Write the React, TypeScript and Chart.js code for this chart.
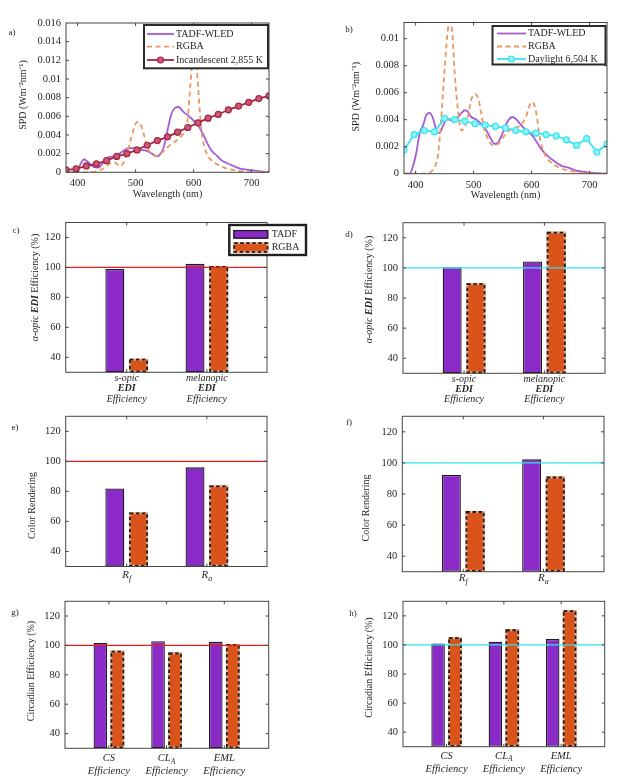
import React, { useEffect, useRef } from "react";
import { Chart, registerables } from "chart.js";

Chart.register(...registerables);

const SERIF = "'Liberation Serif', 'Times New Roman', Times, serif";
const TICK_SIZE = 10.5;
const TITLE_SIZE = 10;
const INK = "#262626";

// ---------------- data: spectra ----------------
const wavelengthTicks = [400, 500, 600, 700];
const spdTicksA = [0, 0.002, 0.004, 0.006, 0.008, 0.01, 0.012, 0.014, 0.016];
const spdTicksB = [0, 0.002, 0.004, 0.006, 0.008, 0.01];
const seriesNamesA = ["TADF-WLED", "RGBA", "Incandescent 2,855 K"];
const seriesNamesB = ["TADF-WLED", "RGBA", "Daylight 6,504 K"];

const tadfWavelengthA = [380, 393, 401, 406, 411, 418, 427, 436, 444, 453, 462, 470, 479, 488, 496, 508, 519, 528, 536, 542, 548, 554, 561, 568, 574, 582, 594, 605, 612, 617, 623, 628, 634, 640, 648, 657, 668, 680, 692, 703, 715, 730];
const tadfSpdA = [0, 0, 0.0004, 0.001, 0.0014, 0.0011, 0.0006, 0.0005, 0.001, 0.0016, 0.0017, 0.0019, 0.0023, 0.0026, 0.0026, 0.0024, 0.0023, 0.002, 0.0017, 0.0019, 0.0026, 0.0042, 0.0061, 0.0069, 0.007, 0.0065, 0.0059, 0.0052, 0.0046, 0.004, 0.0032, 0.0026, 0.0021, 0.0018, 0.0013, 0.001, 0.0007, 0.0004, 0.00028, 0.0002, 0.0001, 0.00003];

const rgbaWavelengthA = [380, 420, 433, 444, 453, 460, 466, 472, 478, 485, 493, 500, 505, 510, 515, 519, 524, 530, 536, 545, 559, 574, 585, 590, 594, 597, 601, 605, 608, 612, 616, 622, 634, 646, 657, 674, 692, 730];
const rgbaSpdA = [0, 0, 0.0001, 0.0004, 0.0008, 0.0011, 0.001, 0.0007, 0.0009, 0.002, 0.0038, 0.0052, 0.0054, 0.0049, 0.0039, 0.0029, 0.0022, 0.0019, 0.0017, 0.0021, 0.0029, 0.0036, 0.0045, 0.0058, 0.009, 0.0112, 0.0125, 0.0115, 0.009, 0.0055, 0.0035, 0.0021, 0.0011, 0.0007, 0.0004, 0.0002, 0.00005, 0];

const incandescentWavelength = [380, 397.5, 415, 432.5, 450, 467.5, 485, 502.5, 520, 537.5, 555, 572.5, 590, 607.5, 625, 642.5, 660, 677.5, 695, 712.5, 730];
const incandescentSpd = [0.00025, 0.00036, 0.00068, 0.0009, 0.00125, 0.0017, 0.002, 0.0024, 0.0029, 0.0034, 0.0038, 0.0043, 0.0048, 0.0053, 0.0058, 0.0062, 0.0067, 0.0071, 0.0075, 0.0079, 0.0082];

const tadfWavelengthB = [380, 390, 395, 401, 407, 413, 418, 424, 430, 436, 441, 447, 453, 459, 464, 470, 479, 485, 490, 496, 505, 513, 522, 531, 536, 542, 551, 559, 567, 574, 582, 591, 600, 608, 617, 628, 640, 651, 663, 680, 697, 730];
const tadfSpdB = [0, 0, 0.0005, 0.0015, 0.003, 0.0036, 0.0043, 0.0045, 0.0041, 0.0032, 0.003, 0.0035, 0.004, 0.004, 0.0039, 0.004, 0.0045, 0.0047, 0.0046, 0.0042, 0.004, 0.0037, 0.0032, 0.0025, 0.0022, 0.0023, 0.0031, 0.0039, 0.0042, 0.004, 0.0036, 0.0032, 0.0029, 0.0024, 0.0018, 0.0013, 0.0009, 0.0006, 0.00045, 0.0002, 0.0001, 0];

const rgbaWavelengthB = [380, 420, 427, 433, 439, 444, 450, 455, 459, 463, 467, 473, 479, 485, 490, 496, 502, 508, 513, 519, 525, 533, 542, 551, 559, 571, 582, 591, 598, 602, 608, 614, 622, 634, 646, 657, 674, 692, 730];
const rgbaSpdB = [0, 0, 0.00015, 0.0005, 0.0015, 0.004, 0.0077, 0.0104, 0.0113, 0.0106, 0.0077, 0.0047, 0.0032, 0.0035, 0.0042, 0.0055, 0.0059, 0.0056, 0.0045, 0.0032, 0.0026, 0.0021, 0.0022, 0.0027, 0.0031, 0.0034, 0.0036, 0.0043, 0.0052, 0.0053, 0.0045, 0.0027, 0.0015, 0.0008, 0.0005, 0.0003, 0.00015, 0.00005, 0];

const daylightWavelength = [380, 397.5, 415, 432.5, 450, 467.5, 485, 502.5, 520, 537.5, 555, 572.5, 590, 607.5, 625, 642.5, 660, 677.5, 695, 712.5, 730];
const daylightSpd = [0.00175, 0.0029, 0.0032, 0.0031, 0.0041, 0.004, 0.0039, 0.0037, 0.0036, 0.0035, 0.0034, 0.0032, 0.0031, 0.003, 0.0029, 0.0028, 0.0025, 0.0021, 0.0026, 0.0016, 0.0022];

// ---------------- data: bar panels ----------------
const barSeriesNames = ["TADF", "RGBA"];
const percentTicks = [40, 60, 80, 100, 120];
const referenceLevel = 100;

const ediCategories = ["s-opic\n*EDI*\nEfficiency", "melanopic\n*EDI*\nEfficiency"];
const ediTadfWarm = [99, 102.4];
const ediRgbaWarm = [39, 101];
const ediTadfCool = [100.5, 104.3];
const ediRgbaCool = [89.8, 124];

const renderCategories = ["R_f", "R_a"];
const renderTadfWarm = [82, 96];
const renderRgbaWarm = [66, 84];
const renderTadfCool = [92.2, 102.3];
const renderRgbaCool = [69, 91.2];

const circadianCategories = ["CS\nEfficiency", "CL_A\nEfficiency", "EML\nEfficiency"];
const circTadfWarm = [101.7, 102.9, 102.4];
const circRgbaWarm = [96.4, 95.1, 100.9];
const circTadfCool = [100.9, 102.2, 104];
const circRgbaCool = [105.3, 110.7, 123.8];

type Part = [string, string];
const spdTitle: Part[] = [["SPD (Wm\u207B\u00B2nm\u207B\u00B9)", ""]];
const ediTitle: Part[] = [["\u03B1-opic ", "italic"], ["EDI", "italic bold"], [" Efficiency (%)", ""]];
const renderTitle: Part[] = [["Color Rendering", ""]];
const circTitle: Part[] = [["Circadian Efficiency (%)", ""]];
const wavelengthTitle = "Wavelength (nm)";

// ---------------- styles ----------------
const TADF_LINE = "#A65CD4";
const RGBA_LINE = "#EE9660";
const INC_LINE = "#A8233F";
const INC_FILL = "#C65A78";
const DAY_LINE = "#38E4EE";
const DAY_FILL = "#93F3F6";
const PURPLE_BAR = "#8A2BC7";
const ORANGE_BAR = "#D9531B";
const RED_REF = "#E21F1F";
const CYAN_REF = "#2FE3EE";

type Box = { x: number; y: number; w: number; h: number };
type Plot = { l: number; t: number; r: number; b: number };

interface Decor {
  box: Box;
  yTitle: { parts: Part[]; cx: number; cy: number };
  ref?: { value: number; color: string };
  dashedDataset?: number;
  xLabels?: { labels: string[]; y: number; lh: number; size: number };
  lineLegend?: { box: number[]; lineX: number[]; textX: number; rowsY: number[] };
  barLegend?: { box: number[]; swX: number[]; rows: number[][]; textX: number };
}

function drawParts(ctx: CanvasRenderingContext2D, parts: Part[], cx: number, cy: number, size: number) {
  const fonts = parts.map(([, st]) => `${st} ${size}px ${SERIF}`.trim());
  let total = 0;
  parts.forEach(([t], i) => {
    ctx.font = fonts[i];
    total += ctx.measureText(t).width;
  });
  let x = cx - total / 2;
  ctx.textAlign = "left";
  ctx.textBaseline = "middle";
  parts.forEach(([t], i) => {
    ctx.font = fonts[i];
    ctx.fillText(t, x, cy);
    x += ctx.measureText(t).width;
  });
}

type Seg = { text: string; bold: boolean; sub: boolean };
function parseRich(line: string): Seg[] {
  const segs: Seg[] = [];
  let bold = false;
  let buf = "";
  const flush = () => {
    if (buf) segs.push({ text: buf, bold, sub: false });
    buf = "";
  };
  for (let i = 0; i < line.length; i++) {
    const c = line[i];
    if (c === "*") {
      flush();
      bold = !bold;
    } else if (c === "_" && i + 1 < line.length) {
      flush();
      segs.push({ text: line[i + 1], bold, sub: true });
      i++;
    } else buf += c;
  }
  flush();
  return segs;
}

function drawRichLine(ctx: CanvasRenderingContext2D, line: string, cx: number, cy: number, size: number) {
  const segs = parseRich(line);
  const fontOf = (s: Seg) => `italic ${s.bold ? "bold " : ""}${s.sub ? size * 0.72 : size}px ${SERIF}`;
  let total = 0;
  segs.forEach((s) => {
    ctx.font = fontOf(s);
    total += ctx.measureText(s.text).width;
  });
  let x = cx - total / 2;
  ctx.textAlign = "left";
  ctx.textBaseline = "middle";
  segs.forEach((s) => {
    ctx.font = fontOf(s);
    ctx.fillText(s.text, x, cy + (s.sub ? size * 0.32 : 0));
    x += ctx.measureText(s.text).width;
  });
}

function dashedRect(ctx: CanvasRenderingContext2D, l: number, t: number, w: number, h: number) {
  ctx.save();
  ctx.lineWidth = 1.8;
  ctx.strokeStyle = "#F3B38C";
  ctx.strokeRect(l + 0.9, t + 0.9, w - 1.8, h - 1.8);
  ctx.setLineDash([3.5, 2.5]);
  ctx.strokeStyle = "#1a1a1a";
  ctx.strokeRect(l + 0.9, t + 0.9, w - 1.8, h - 1.8);
  ctx.restore();
}

function makeDecor(d: Decor) {
  const ox = d.box.x;
  const oy = d.box.y;
  return {
    id: "decor",
    afterDatasetsDraw(chart: any) {
      const ctx: CanvasRenderingContext2D = chart.ctx;
      const a = chart.chartArea;
      if (d.dashedDataset !== undefined) {
        const meta = chart.getDatasetMeta(d.dashedDataset);
        meta.data.forEach((el: any) => {
          const p = el.getProps(["x", "y", "base", "width"], true);
          const top = Math.min(p.y, p.base);
          dashedRect(ctx, p.x - p.width / 2, top, p.width, Math.abs(p.base - p.y));
        });
      }
      if (d.ref) {
        const y = chart.scales.y.getPixelForValue(d.ref.value);
        ctx.save();
        ctx.strokeStyle = d.ref.color;
        ctx.lineWidth = 1.2;
        ctx.beginPath();
        ctx.moveTo(a.left, y);
        ctx.lineTo(a.right, y);
        ctx.stroke();
        ctx.restore();
      }
    },
    afterDraw(chart: any) {
      const ctx: CanvasRenderingContext2D = chart.ctx;
      const a = chart.chartArea;
      const xs = chart.scales.x;
      const ys = chart.scales.y;
      ctx.save();
      // frame with inward ticks
      ctx.strokeStyle = "#454545";
      ctx.lineWidth = 1;
      ctx.strokeRect(a.left, a.top, a.right - a.left, a.bottom - a.top);
      ctx.beginPath();
      xs.ticks.forEach((t: any) => {
        const px = xs.getPixelForValue(t.value);
        ctx.moveTo(px, a.bottom);
        ctx.lineTo(px, a.bottom - 3);
        ctx.moveTo(px, a.top);
        ctx.lineTo(px, a.top + 3);
      });
      ys.ticks.forEach((t: any) => {
        const py = ys.getPixelForValue(t.value);
        if (py > a.bottom - 0.5 || py < a.top + 0.5) return;
        ctx.moveTo(a.left, py);
        ctx.lineTo(a.left + 3, py);
        ctx.moveTo(a.right, py);
        ctx.lineTo(a.right - 3, py);
      });
      ctx.stroke();

      ctx.fillStyle = INK;
      // y title
      ctx.save();
      ctx.translate(d.yTitle.cx - ox, d.yTitle.cy - oy);
      ctx.rotate(-Math.PI / 2);
      drawParts(ctx, d.yTitle.parts, 0, 0, TITLE_SIZE);
      ctx.restore();

      // rich category labels
      if (d.xLabels) {
        const xl = d.xLabels;
        xl.labels.forEach((lab, i) => {
          const px = xs.getPixelForValue(i + 1);
          lab.split("\n").forEach((ln, j) => {
            drawRichLine(ctx, ln, px, xl.y - oy + j * xl.lh, xl.size);
          });
        });
      }

      // line legend
      if (d.lineLegend) {
        const L = d.lineLegend;
        const [x0, y0, x1, y1] = L.box;
        ctx.fillStyle = "#ffffff";
        ctx.fillRect(x0 - ox, y0 - oy, x1 - x0, y1 - y0);
        ctx.strokeStyle = "#2b2b2b";
        ctx.lineWidth = 2;
        ctx.strokeRect(x0 - ox, y0 - oy, x1 - x0, y1 - y0);
        chart.data.datasets.forEach((ds: any, i: number) => {
          const y = L.rowsY[i] - oy;
          ctx.save();
          ctx.strokeStyle = ds.borderColor;
          ctx.lineWidth = ds.borderWidth;
          ctx.setLineDash(ds.borderDash || []);
          ctx.beginPath();
          ctx.moveTo(L.lineX[0] - ox, y);
          ctx.lineTo(L.lineX[1] - ox, y);
          ctx.stroke();
          ctx.restore();
          if (ds.pointRadius > 0) {
            ctx.beginPath();
            ctx.arc((L.lineX[0] + L.lineX[1]) / 2 - ox, y, ds.pointRadius, 0, Math.PI * 2);
            ctx.fillStyle = ds.pointBackgroundColor;
            ctx.fill();
            ctx.strokeStyle = ds.pointBorderColor;
            ctx.lineWidth = ds.pointBorderWidth;
            ctx.stroke();
          }
          ctx.fillStyle = INK;
          ctx.font = `${TITLE_SIZE}px ${SERIF}`;
          ctx.textAlign = "left";
          ctx.textBaseline = "middle";
          ctx.fillText(ds.label, L.textX - ox, y);
        });
      }

      // bar legend
      if (d.barLegend) {
        const L = d.barLegend;
        const [x0, y0, x1, y1] = L.box;
        ctx.fillStyle = "#ffffff";
        ctx.fillRect(x0 - ox, y0 - oy, x1 - x0, y1 - y0);
        ctx.strokeStyle = "#1f1f1f";
        ctx.lineWidth = 2.4;
        ctx.strokeRect(x0 - ox, y0 - oy, x1 - x0, y1 - y0);
        chart.data.datasets.forEach((ds: any, i: number) => {
          const [ry0, ry1, ty] = L.rows[i];
          const l = L.swX[0] - ox;
          const w = L.swX[1] - L.swX[0];
          const t = ry0 - oy;
          const h = ry1 - ry0;
          ctx.fillStyle = ds.backgroundColor;
          ctx.fillRect(l, t, w, h);
          if (i === d.dashedDataset) {
            dashedRect(ctx, l, t, w, h);
          } else {
            ctx.strokeStyle = ds.borderColor;
            ctx.lineWidth = ds.borderWidth;
            ctx.strokeRect(l + 0.6, t + 0.6, w - 1.2, h - 1.2);
          }
          ctx.fillStyle = INK;
          ctx.font = `${TITLE_SIZE}px ${SERIF}`;
          ctx.textAlign = "left";
          ctx.textBaseline = "middle";
          ctx.fillText(ds.label, L.textX - ox, ty - oy);
        });
      }
      ctx.restore();
    },
  };
}

function layoutOf(box: Box, plot: Plot, xTitleCY?: number) {
  const lh = TITLE_SIZE * 1.2;
  const padLeft = 2;
  const W = plot.l - box.x - padLeft;
  const H = xTitleCY !== undefined ? xTitleCY + lh / 2 - plot.b : box.y + box.h - plot.b;
  return {
    W,
    H,
    padding: { left: padLeft, top: plot.t - box.y, right: box.x + box.w - plot.r, bottom: box.y + box.h - plot.b - H },
  };
}

const fmtNum = (v: number) => String(Math.round(v * 100000) / 100000);

interface Series { label: string; wl: number[]; val: number[]; color: string; dash?: number[]; marker?: string; width: number }

interface SpecSpectrum {
  box: Box; plot: Plot; xTitleCY: number; yMax: number; yTicks: number[];
  series: Series[]; decor: Omit<Decor, "box">;
}

function spectrumConfig(s: SpecSpectrum) {
  const lay = layoutOf(s.box, s.plot, s.xTitleCY);
  const n = s.series.length;
  return {
    type: "line",
    data: {
      datasets: s.series.map((se, i) => ({
        label: se.label,
        data: se.wl.map((w, j) => ({ x: w, y: se.val[j] })),
        borderColor: se.color,
        borderWidth: se.width,
        borderDash: se.dash || [],
        pointRadius: se.marker ? 3 : 0,
        pointBackgroundColor: se.marker || se.color,
        pointBorderColor: se.color,
        pointBorderWidth: 1.2,
        cubicInterpolationMode: se.marker ? "default" : "monotone",
        tension: 0,
        fill: false,
        order: n - i,
      })),
    },
    options: {
      responsive: false,
      animation: false,
      events: [],
      layout: { padding: lay.padding },
      plugins: { legend: { display: false }, tooltip: { enabled: false } },
      scales: {
        x: {
          type: "linear", min: 380, max: 730, offset: false,
          grid: { display: false, drawTicks: false }, border: { display: false },
          afterBuildTicks: (sc: any) => { sc.ticks = wavelengthTicks.map((v) => ({ value: v })); },
          afterFit: (sc: any) => { sc.height = lay.H; },
          ticks: { padding: 5, color: INK, font: { family: SERIF, size: TICK_SIZE }, callback: (v: any) => String(v) },
          title: { display: true, text: wavelengthTitle, padding: 0, color: INK, font: { family: SERIF, size: TITLE_SIZE } },
        },
        y: {
          type: "linear", min: 0, max: s.yMax,
          grid: { display: false, drawTicks: false }, border: { display: false },
          afterBuildTicks: (sc: any) => { sc.ticks = s.yTicks.map((v) => ({ value: v })); },
          afterFit: (sc: any) => { sc.width = lay.W; },
          ticks: { padding: 5, color: INK, font: { family: SERIF, size: TICK_SIZE }, callback: (v: any) => fmtNum(Number(v)) },
        },
      },
    },
    plugins: [makeDecor({ ...s.decor, box: s.box })],
  };
}

interface SpecBar {
  box: Box; plot: Plot; xMax: number; categories: string[];
  tadf: number[]; rgba: number[]; decor: Omit<Decor, "box">;
}

function barConfig(s: SpecBar) {
  const lay = layoutOf(s.box, s.plot);
  const yMin = 30;
  const common = { base: yMin, categoryPercentage: 0.59, barPercentage: 0.8 };
  return {
    type: "bar",
    data: {
      datasets: [
        {
          label: barSeriesNames[0],
          data: s.categories.map((_, i) => ({ x: i + 1, y: s.tadf[i] })),
          backgroundColor: PURPLE_BAR, borderColor: "#1c1c1c", borderWidth: 1.3, borderSkipped: false,
          ...common,
        },
        {
          label: barSeriesNames[1],
          data: s.categories.map((_, i) => ({ x: i + 1, y: s.rgba[i] })),
          backgroundColor: ORANGE_BAR, borderColor: "#1c1c1c", borderWidth: 0,
          ...common,
        },
      ],
    },
    options: {
      responsive: false,
      animation: false,
      events: [],
      layout: { padding: lay.padding },
      plugins: { legend: { display: false }, tooltip: { enabled: false } },
      scales: {
        x: {
          type: "linear", min: 0.24, max: s.xMax, offset: false,
          grid: { display: false, drawTicks: false }, border: { display: false },
          afterBuildTicks: (sc: any) => { sc.ticks = s.categories.map((_, i) => ({ value: i + 1 })); },
          afterFit: (sc: any) => { sc.height = lay.H; },
          ticks: { display: false },
        },
        y: {
          type: "linear", min: yMin, max: 130,
          grid: { display: false, drawTicks: false }, border: { display: false },
          afterBuildTicks: (sc: any) => { sc.ticks = percentTicks.map((v) => ({ value: v })); },
          afterFit: (sc: any) => { sc.width = lay.W; },
          ticks: { padding: 5, color: INK, font: { family: SERIF, size: TICK_SIZE }, callback: (v: any) => String(v) },
        },
      },
    },
    plugins: [makeDecor({ ...s.decor, box: s.box, dashedDataset: 1 })],
  };
}

function ChartPanel({ box, config }: { box: Box; config: () => any }) {
  const ref = useRef<HTMLCanvasElement | null>(null);
  useEffect(() => {
    const chart = new Chart(ref.current as HTMLCanvasElement, config());
    return () => chart.destroy();
  }, []);
  return (
    <canvas
      ref={ref}
      width={box.w}
      height={box.h}
      style={{ position: "absolute", left: box.x, top: box.y, width: box.w, height: box.h }}
    />
  );
}

const boxA: Box = { x: 0, y: 0, w: 310, h: 205 };
const boxB: Box = { x: 310, y: 0, w: 309, h: 205 };
const boxC: Box = { x: 0, y: 205, w: 310, h: 200 };
const boxD: Box = { x: 310, y: 205, w: 309, h: 200 };
const boxE: Box = { x: 0, y: 405, w: 310, h: 185 };
const boxF: Box = { x: 310, y: 405, w: 309, h: 185 };
const boxG: Box = { x: 0, y: 590, w: 310, h: 194 };
const boxH: Box = { x: 310, y: 590, w: 309, h: 194 };

const specA: SpecSpectrum = {
  box: boxA, plot: { l: 66, t: 23, r: 269, b: 172.3 }, xTitleCY: 194.3, yMax: 0.016, yTicks: spdTicksA,
  series: [
    { label: seriesNamesA[0], wl: tadfWavelengthA, val: tadfSpdA, color: TADF_LINE, width: 1.8 },
    { label: seriesNamesA[1], wl: rgbaWavelengthA, val: rgbaSpdA, color: RGBA_LINE, width: 1.8, dash: [5, 3.5] },
    { label: seriesNamesA[2], wl: incandescentWavelength, val: incandescentSpd, color: INC_LINE, width: 1.8, marker: INC_FILL },
  ],
  decor: {
    yTitle: { parts: spdTitle, cx: 23.3, cy: 95 },
    lineLegend: { box: [144, 25, 268, 68.3], lineX: [147, 174], textX: 176, rowsY: [34, 46.7, 60] },
  },
};

const specB: SpecSpectrum = {
  box: boxB, plot: { l: 404, t: 22.5, r: 607, b: 173.7 }, xTitleCY: 195, yMax: 0.0112, yTicks: spdTicksB,
  series: [
    { label: seriesNamesB[0], wl: tadfWavelengthB, val: tadfSpdB, color: TADF_LINE, width: 1.8 },
    { label: seriesNamesB[1], wl: rgbaWavelengthB, val: rgbaSpdB, color: RGBA_LINE, width: 1.8, dash: [5, 3.5] },
    { label: seriesNamesB[2], wl: daylightWavelength, val: daylightSpd, color: DAY_LINE, width: 1.8, marker: DAY_FILL },
  ],
  decor: {
    yTitle: { parts: spdTitle, cx: 356.7, cy: 96.7 },
    lineLegend: { box: [492.5, 26, 605.5, 64.5], lineX: [497, 526], textX: 528, rowsY: [33.5, 46.5, 59] },
  },
};

const specC: SpecBar = {
  box: boxC, plot: { l: 65.7, t: 222.5, r: 267, b: 372.3 }, xMax: 2.75, categories: ediCategories,
  tadf: ediTadfWarm, rgba: ediRgbaWarm,
  decor: {
    yTitle: { parts: ediTitle, cx: 35, cy: 287.5 },
    ref: { value: referenceLevel, color: RED_REF },
    xLabels: { labels: ediCategories, y: 378.5, lh: 10.4, size: 10 },
    barLegend: { box: [229.3, 225, 306, 255], swX: [233.3, 268.3], rows: [[230, 238.7, 234], [242.3, 252.7, 247.3]], textX: 271.7 },
  },
};

const specD: SpecBar = {
  box: boxD, plot: { l: 403, t: 222.7, r: 605, b: 373.3 }, xMax: 2.755, categories: ediCategories,
  tadf: ediTadfCool, rgba: ediRgbaCool,
  decor: {
    yTitle: { parts: ediTitle, cx: 369.3, cy: 289.5 },
    ref: { value: referenceLevel, color: CYAN_REF },
    xLabels: { labels: ediCategories, y: 379.2, lh: 10.3, size: 10 },
  },
};

const specE: SpecBar = {
  box: boxE, plot: { l: 65.7, t: 415.5, r: 267, b: 566.5 }, xMax: 2.75, categories: renderCategories,
  tadf: renderTadfWarm, rgba: renderRgbaWarm,
  decor: {
    yTitle: { parts: renderTitle, cx: 32.3, cy: 505.5 },
    ref: { value: referenceLevel, color: RED_REF },
    xLabels: { labels: renderCategories, y: 575.5, lh: 11, size: 11 },
  },
};

const specF: SpecBar = {
  box: boxF, plot: { l: 402.3, t: 413, r: 604, b: 571.7 }, xMax: 2.755, categories: renderCategories,
  tadf: renderTadfCool, rgba: renderRgbaCool,
  decor: {
    yTitle: { parts: renderTitle, cx: 366.7, cy: 508 },
    ref: { value: referenceLevel, color: CYAN_REF },
    xLabels: { labels: renderCategories, y: 578, lh: 11, size: 11 },
  },
};

const specG: SpecBar = {
  box: boxG, plot: { l: 65, t: 597.5, r: 268.7, b: 748.3 }, xMax: 3.77, categories: circadianCategories,
  tadf: circTadfWarm, rgba: circRgbaWarm,
  decor: {
    yTitle: { parts: circTitle, cx: 31.7, cy: 671 },
    ref: { value: referenceLevel, color: RED_REF },
    xLabels: { labels: circadianCategories, y: 758.3, lh: 12.7, size: 10.5 },
  },
};

const specH: SpecBar = {
  box: boxH, plot: { l: 403, t: 596.5, r: 604.7, b: 746.7 }, xMax: 3.76, categories: circadianCategories,
  tadf: circTadfCool, rgba: circRgbaCool,
  decor: {
    yTitle: { parts: circTitle, cx: 369.3, cy: 667.5 },
    ref: { value: referenceLevel, color: CYAN_REF },
    xLabels: { labels: circadianCategories, y: 756, lh: 13, size: 10.5 },
  },
};

const panelTags: [string, number, number][] = [
  ["a)", 12, 32],
  ["b)", 349, 29],
  ["c)", 16, 230],
  ["d)", 349, 234],
  ["e)", 15, 427],
  ["f)", 349, 422],
  ["g)", 15, 612],
  ["h)", 353, 613],
];

export default function App() {
  return (
    <div style={{ position: "absolute", left: 0, top: 0, width: 619, height: 784, background: "#ffffff", overflow: "hidden" }}>
      <ChartPanel box={boxA} config={() => spectrumConfig(specA)} />
      <ChartPanel box={boxB} config={() => spectrumConfig(specB)} />
      <ChartPanel box={boxC} config={() => barConfig(specC)} />
      <ChartPanel box={boxD} config={() => barConfig(specD)} />
      <ChartPanel box={boxE} config={() => barConfig(specE)} />
      <ChartPanel box={boxF} config={() => barConfig(specF)} />
      <ChartPanel box={boxG} config={() => barConfig(specG)} />
      <ChartPanel box={boxH} config={() => barConfig(specH)} />
      {panelTags.map(([t, x, y]) => (
        <div
          key={t}
          style={{
            position: "absolute", left: x, top: y, transform: "translate(-50%, -50%)",
            fontFamily: SERIF, fontSize: 9, lineHeight: "10px", color: INK, whiteSpace: "nowrap",
          }}
        >
          {t}
        </div>
      ))}
    </div>
  );
}
